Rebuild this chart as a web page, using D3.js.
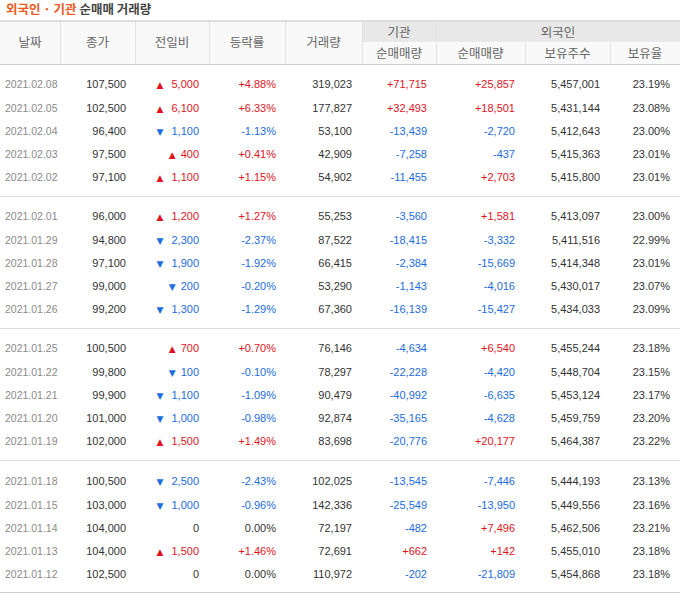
<!DOCTYPE html>
<html><head><meta charset="utf-8">
<script src="https://cdn.jsdelivr.net/npm/d3@7"></script>
<style>body{margin:0;background:#fff}</style></head>
<body><svg id="c" width="680" height="593"></svg>
<script>
const dates=["2021.02.08","2021.02.05","2021.02.04","2021.02.03","2021.02.02","2021.02.01","2021.01.29","2021.01.28","2021.01.27","2021.01.26","2021.01.25","2021.01.22","2021.01.21","2021.01.20","2021.01.19","2021.01.18","2021.01.15","2021.01.14","2021.01.13","2021.01.12"];
const close=[107500,102500,96400,97500,97100,96000,94800,97100,99000,99200,100500,99800,99900,101000,102000,100500,103000,104000,104000,102500];
const change=[5000,6100,-1100,400,1100,1200,-2300,-1900,-200,-1300,700,-100,-1100,-1000,1500,-2500,-1000,0,1500,0];
const pct=[4.88,6.33,-1.13,0.41,1.15,1.27,-2.37,-1.92,-0.20,-1.29,0.70,-0.10,-1.09,-0.98,1.49,-2.43,-0.96,0.00,1.46,0.00];
const volume=[319023,177827,53100,42909,54902,55253,87522,66415,53290,67360,76146,78297,90479,92874,83698,102025,142336,72197,72691,110972];
const inst=[71715,32493,-13439,-7258,-11455,-3560,-18415,-2384,-1143,-16139,-4634,-22228,-40992,-35165,-20776,-13545,-25549,-482,662,-202];
const foreign=[25857,18501,-2720,-437,2703,1581,-3332,-15669,-4016,-15427,6540,-4420,-6635,-4628,20177,-7446,-13950,7496,142,-21809];
const holdings=[5457001,5431144,5412643,5415363,5415800,5413097,5411516,5414348,5430017,5434033,5455244,5448704,5453124,5459759,5464387,5444193,5449556,5462506,5455010,5454868];
const holdPct=[23.19,23.08,23.00,23.01,23.01,23.00,22.99,23.01,23.07,23.09,23.18,23.15,23.17,23.20,23.22,23.13,23.16,23.21,23.18,23.18];

const svg=d3.select("#c");
const KF="'Noto Sans CJK KR',sans-serif", NF="'Liberation Sans',Arial,sans-serif";
const RED="#e1141e", BLUE="#1d6ce0", TXT="#333";
const cols=[0,60,135,209,285,362,436,525,610,680];
const t=svg.append("text").attr("x",6).attr("y",14).attr("font-family",KF).attr("font-size",12.5).attr("font-weight","bold");
t.append("tspan").attr("fill","#f05a22").text("외국인 · 기관 ");
t.append("tspan").attr("fill","#444").text("순매매 거래량");
svg.append("rect").attr("x",0).attr("y",21).attr("width",680).attr("height",43).attr("fill","#f9f9f9");
svg.append("rect").attr("x",362).attr("y",21).attr("width",318).attr("height",21).attr("fill","#e8e8e8");
svg.append("rect").attr("x",0).attr("y",20).attr("width",680).attr("height",2).attr("fill","#dedede");
svg.append("line").attr("x1",0).attr("x2",680).attr("y1",64.5).attr("y2",64.5).attr("stroke","#ccc");
svg.append("line").attr("x1",362).attr("x2",680).attr("y1",42.5).attr("y2",42.5).attr("stroke","#fff");
const vl=(x,y1,y2)=>svg.append("line").attr("x1",x+.5).attr("x2",x+.5).attr("y1",y1).attr("y2",y2).attr("stroke","#e2e2e2");
[60,135,209,285,362].forEach(x=>vl(x,22,64));
[436,525,610].forEach(x=>vl(x,43,64));
vl(436,22,42);
const hdr=(x,y,s)=>svg.append("text").attr("x",x).attr("y",y).attr("text-anchor","middle").attr("font-family",KF).attr("font-size",12.5).attr("fill","#666").text(s);
["날짜","종가","전일비","등락률","거래량"].forEach((s,i)=>hdr((cols[i]+cols[i+1])/2,47,s));
hdr(399,37,"기관"); hdr(558,37,"외국인");
["순매매량","순매매량","보유주수","보유율"].forEach((s,i)=>hdr((cols[i+5]+cols[i+6])/2,58,s));
const gy=[84,216,348,481];
const yOf=i=>gy[Math.floor(i/5)]+[0,23.5,46.5,69.5,92.5][i%5];
const f0=d3.format(",");
const fmt=v=>f0(v).replace("−","-");
const sg=v=>v>0?"+"+fmt(v):fmt(v);
const col=v=>v>0?RED:v<0?BLUE:TXT;
const txt=(x,y,s,c,a="end",sz=11)=>svg.append("text").attr("x",x).attr("y",y+4).attr("text-anchor",a).attr("font-family",NF).attr("font-size",sz).attr("fill",c).text(s);
dates.forEach((d,i)=>{
  const y=yOf(i);
  txt(5,y,d,"#8a8a8a","start",10.5);
  txt(126,y,fmt(close[i]),TXT);
  const c=change[i];
  txt(199,y,fmt(Math.abs(c)),col(c));
  if(c!==0){const w=fmt(Math.abs(c)).length*6.1+5;
    svg.append("text").attr("x",199-w).attr("y",y+4).attr("text-anchor","end").attr("font-family","'DejaVu Sans'").attr("font-size",9).attr("fill",col(c)).text(c>0?"▲":"▼");}
  txt(276,y,(pct[i]>0?"+":"")+pct[i].toFixed(2)+"%",col(pct[i]));
  txt(352,y,fmt(volume[i]),TXT);
  txt(427,y,sg(inst[i]),col(inst[i]));
  txt(515,y,sg(foreign[i]),col(foreign[i]));
  txt(600,y,fmt(holdings[i]),TXT);
  txt(670,y,holdPct[i].toFixed(2)+"%",TXT);
});
[196,328,460].forEach(y=>svg.append("line").attr("x1",0).attr("x2",680).attr("y1",y+.5).attr("y2",y+.5).attr("stroke","#ddd"));
svg.append("line").attr("x1",0).attr("x2",680).attr("y1",592.5).attr("y2",592.5).attr("stroke","#ccc");
</script></body></html>
